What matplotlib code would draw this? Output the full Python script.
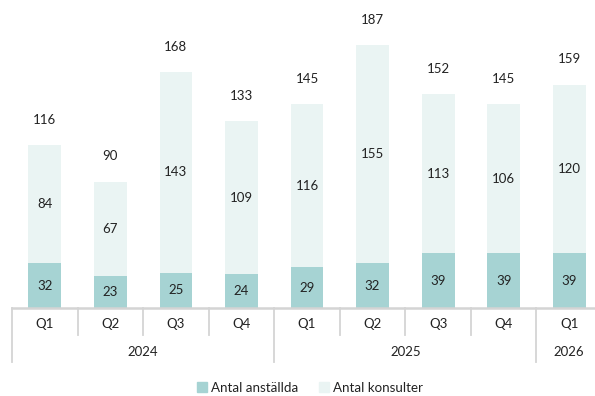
import matplotlib.pyplot as plt
from matplotlib.patches import Patch

plt.rcParams['font.family'] = ['Lato', 'DejaVu Sans']

# Data
quarters = ['Q1', 'Q2', 'Q3', 'Q4', 'Q1', 'Q2', 'Q3', 'Q4', 'Q1']
years = ['2024', '2025', '2026']
year_spans = [(0, 3), (4, 7), (8, 8)]
anstallda = [32, 23, 25, 24, 29, 32, 39, 39, 39]
konsulter = [84, 67, 143, 109, 116, 155, 113, 106, 120]
totals = [116, 90, 168, 133, 145, 187, 152, 145, 159]

teal = '#a6d3d3'
light = '#eaf4f3'
grid_c = '#d4d4d4'
txt_c = '#222222'

fig = plt.figure(figsize=(5.95, 3.96), dpi=100)
ax = fig.add_axes([12 / 595, 88 / 396, 590 / 595, 281 / 396])

x = list(range(len(quarters)))
ax.bar(x, anstallda, width=0.5, color=teal, label='Antal anställda')
ax.bar(x, konsulter, width=0.5, bottom=anstallda, color=light, label='Antal konsulter')

for i in x:
    ax.text(i, anstallda[i] / 2, str(anstallda[i]), ha='center', va='center',
            fontsize=9.5, color=txt_c)
    ax.text(i, anstallda[i] + konsulter[i] / 2, str(konsulter[i]), ha='center',
            va='center', fontsize=9.5, color=txt_c)
    ax.text(i, totals[i] + 18, str(totals[i]), ha='center', va='center',
            fontsize=9.5, color=txt_c)

ax.set_xlim(-0.5, 8.5)
ax.set_ylim(0, 200)
ax.axis('off')

# baseline
ax.plot([-0.5, 8.5], [0, 0], color=grid_c, lw=1.8, clip_on=False, zorder=3)

trans = ax.get_xaxis_transform()
# quarter labels and separators
year_bounds = [-0.5, 3.5, 7.5]
for i, q in enumerate(quarters):
    ax.text(i, -0.057, q, transform=trans, ha='center', va='center',
            fontsize=9.5, color=txt_c)
for b in [k + 0.5 for k in range(-1, 9)]:
    bottom = -0.192 if b in year_bounds else -0.096
    ax.plot([b, b], [0, bottom], transform=trans, color=grid_c, lw=1.3,
            clip_on=False)

for yr, (a, b) in zip(years, year_spans):
    ax.text((a + b) / 2, -0.157, yr, transform=trans, ha='center',
            va='center', fontsize=9.5, color=txt_c)

handles = [Patch(color=teal, label='Antal anställda'),
           Patch(color=light, label='Antal konsulter')]
fig.legend(handles=handles, loc='lower center', bbox_to_anchor=(310 / 595, -0.024),
           ncol=2, frameon=False, fontsize=9.6, handlelength=0.7, handleheight=0.7,
           handletextpad=0.3, columnspacing=1.6, labelcolor=txt_c)

plt.savefig('out.png', dpi=100)
plt.close()
